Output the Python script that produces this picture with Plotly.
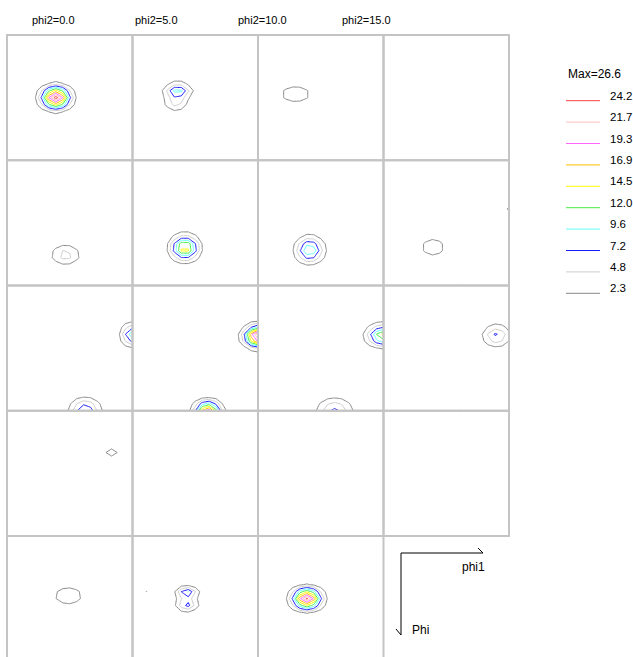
import numpy as np
import plotly.graph_objects as go

# ---------------- data ----------------
phi2_values = [0, 5, 10, 15, 20, 25, 30, 35, 40, 45, 50, 55, 60, 65, 70, 75, 80, 85, 90]
grid_deg = list(range(0, 95, 5))          # phi1 / Phi sampling (degrees)
levels = [2.3, 4.8, 7.2, 9.6, 12.0, 14.5, 16.9, 19.3, 21.7, 24.2]
level_colors = ["#888888", "#cccccc", "#1a1aff", "#66ffff", "#44ee44",
                "#ffff00", "#ffc000", "#ff66ff", "#ffc0c0", "#ff4040"]
max_value = 26.6

# intensity peaks read from the sections (panel index = position in phi2_values)
peak_panel  = [0,    1,    1,    2,    4,    5,    6,    7,    7,    7,    8,    8,    9,    9,    10,   10,   11,   11,   12,   16,   17,   17,   17,   18]
peak_phi1   = [35,   32.5, 31,   27,   42,   37.5, 37,   35.5, 90,   55,   90,   56,   90,   54,   90,   55,   81,   55,   75,   44,   39,   39,   10,   35]
peak_Phi    = [45,   40,   49,   42.5, 68,   63,   64.5, 62.5, 35,   90,   35.5, 90,   36.5, 90,   36,   90,   36,   90,   30,   43,   41,   50,   40,   45]
peak_height = [26.0, 10.8, 5.5,  3.3,  6.0,  17.0, 12.5, 5.0,  2.9,  2.5,  12.0, 10.0, 26.6, 22.0, 15.5, 8.0,  7.8,  2.5,  2.6,  3.3,  10.5, 8.0,  2.4,  25.0]
peak_sx     = [6.5,  6.0,  5.5,  11.5, 7.0,  6.4,  6.4,  6.0,  3.0,  2.5,  5.0,  7.0,  6.2,  5.9,  7.5,  8.2,  6.5,  2.5,  9.0,  11.0, 5.0,  5.0,  2.0,  6.6]
peak_sy     = [4.9,  3.5,  4.0,  6.5,  4.9,  5.5,  5.9,  4.3,  3.0,  2.5,  5.0,  5.7,  4.6,  4.2,  4.8,  5.7,  5.0,  2.5,  7.0,  7.0,  3.0,  3.0,  2.0,  4.7]

# ---------------- geometry (page pixels) ----------------
FIG_W, FIG_H = 633, 657
PANEL_LEFT, PANEL_TOP = 7.0, 35.0
PANEL_W, PANEL_H = 125.5, 125.25
NCOLS = 4
FONT = "Liberation Sans, Arial, sans-serif"


def fx(px):
    return px / FIG_W


def fy(py):
    return 1 - py / FIG_H


grid = np.array(grid_deg, dtype=float)
GX, GY = np.meshgrid(grid, grid)

nlev = len(levels)
colorscale = [[k / (nlev - 1), c] for k, c in enumerate(level_colors)]

fig = go.Figure()
layout_axes = {}
shapes = []

for p, phi2 in enumerate(phi2_values):
    z = np.zeros_like(GX)
    for i, pan in enumerate(peak_panel):
        if pan == p:
            z += peak_height[i] * np.exp(
                -0.5 * ((GX - peak_phi1[i]) / peak_sx[i]) ** 2
                - 0.5 * ((GY - peak_Phi[i]) / peak_sy[i]) ** 2)
    c, r = p % NCOLS, p // NCOLS
    x0 = PANEL_LEFT + c * PANEL_W
    x1 = x0 + PANEL_W
    y0 = PANEL_TOP + r * PANEL_H
    y1 = y0 + PANEL_H
    vis_bottom = min(y1, FIG_H)
    yr_max = 90.0 * (vis_bottom - y0) / PANEL_H
    n = p + 1
    xa = "xaxis" if n == 1 else f"xaxis{n}"
    ya = "yaxis" if n == 1 else f"yaxis{n}"
    layout_axes[xa] = dict(domain=[fx(x0), fx(x1)], range=[0, 90],
                           visible=False, anchor=f"y{n}" if n > 1 else "y", fixedrange=True)
    layout_axes[ya] = dict(domain=[max(0.0, fy(vis_bottom)), fy(y0)], range=[yr_max, 0],
                           visible=False, anchor=f"x{n}" if n > 1 else "x", fixedrange=True)
    fig.add_trace(go.Contour(
        x=grid, y=grid, z=z,
        xaxis=f"x{n}" if n > 1 else "x", yaxis=f"y{n}" if n > 1 else "y",
        autocontour=False,
        contours=dict(start=levels[0], end=levels[-1],
                      size=(levels[-1] - levels[0]) / (nlev - 1), coloring="lines"),
        colorscale=colorscale, showscale=False,
        line=dict(width=1, smoothing=0),
        hoverinfo="skip", name=f"phi2={phi2:.1f}"))
    shapes.append(dict(type="rect", xref="paper", yref="paper",
                       x0=fx(x0), x1=fx(x1), y0=fy(y1), y1=fy(y0),
                       line=dict(color="#c4c4c4", width=2), layer="above"))

annotations = []
# column titles
for c in range(NCOLS):
    annotations.append(dict(text=f"phi2={phi2_values[c]:.1f}", x=fx(30 + 103.2 * c), y=fy(20),
                            xref="paper", yref="paper", xanchor="left", yanchor="middle",
                            showarrow=False, font=dict(family=FONT, size=11, color="#000000")))

# legend (levels, top = highest)
annotations.append(dict(text=f"Max={max_value:.1f}", x=fx(566), y=fy(74), xref="paper", yref="paper",
                        xanchor="left", yanchor="middle", showarrow=False,
                        font=dict(family=FONT, size=12, color="#000000")))
for i, (lv, col) in enumerate(zip(levels[::-1], level_colors[::-1])):
    ly = 100.7 + 21.4 * i
    shapes.append(dict(type="line", xref="paper", yref="paper", x0=fx(566), x1=fx(600),
                       y0=fy(ly), y1=fy(ly), line=dict(color=col, width=1)))
    annotations.append(dict(text=f"{lv:.1f}", x=fx(608), y=fy(ly - 5), xref="paper", yref="paper",
                            xanchor="left", yanchor="middle", showarrow=False,
                            font=dict(family=FONT, size=11.5, color="#000000")))

# axis orientation indicator
ax_col = dict(color="#000000", width=1)
for (a, b, cc, d) in [(401, 553, 483, 553), (478, 548, 483, 553),
                      (401, 553, 401, 635), (396, 629, 401, 635)]:
    shapes.append(dict(type="line", xref="paper", yref="paper", x0=fx(a), y0=fy(b),
                       x1=fx(cc), y1=fy(d), line=ax_col))
annotations.append(dict(text="phi1", x=fx(473), y=fy(567), xref="paper", yref="paper",
                        xanchor="center", yanchor="middle", showarrow=False,
                        font=dict(family=FONT, size=12, color="#000000")))
annotations.append(dict(text="Phi", x=fx(420), y=fy(630), xref="paper", yref="paper",
                        xanchor="center", yanchor="middle", showarrow=False,
                        font=dict(family=FONT, size=12, color="#000000")))

fig.update_layout(
    width=FIG_W, height=FIG_H,
    margin=dict(l=0, r=0, t=0, b=0),
    paper_bgcolor="#ffffff", plot_bgcolor="#ffffff",
    showlegend=False,
    shapes=shapes, annotations=annotations,
    **layout_axes)

# place the figure at the page origin so the 633x657 window shows it exactly
fig.write_html("out.html",
               config={"displayModeBar": False},
               post_script="document.body.style.margin='0';document.body.style.padding='0';"
                           "document.body.style.overflow='hidden';")
